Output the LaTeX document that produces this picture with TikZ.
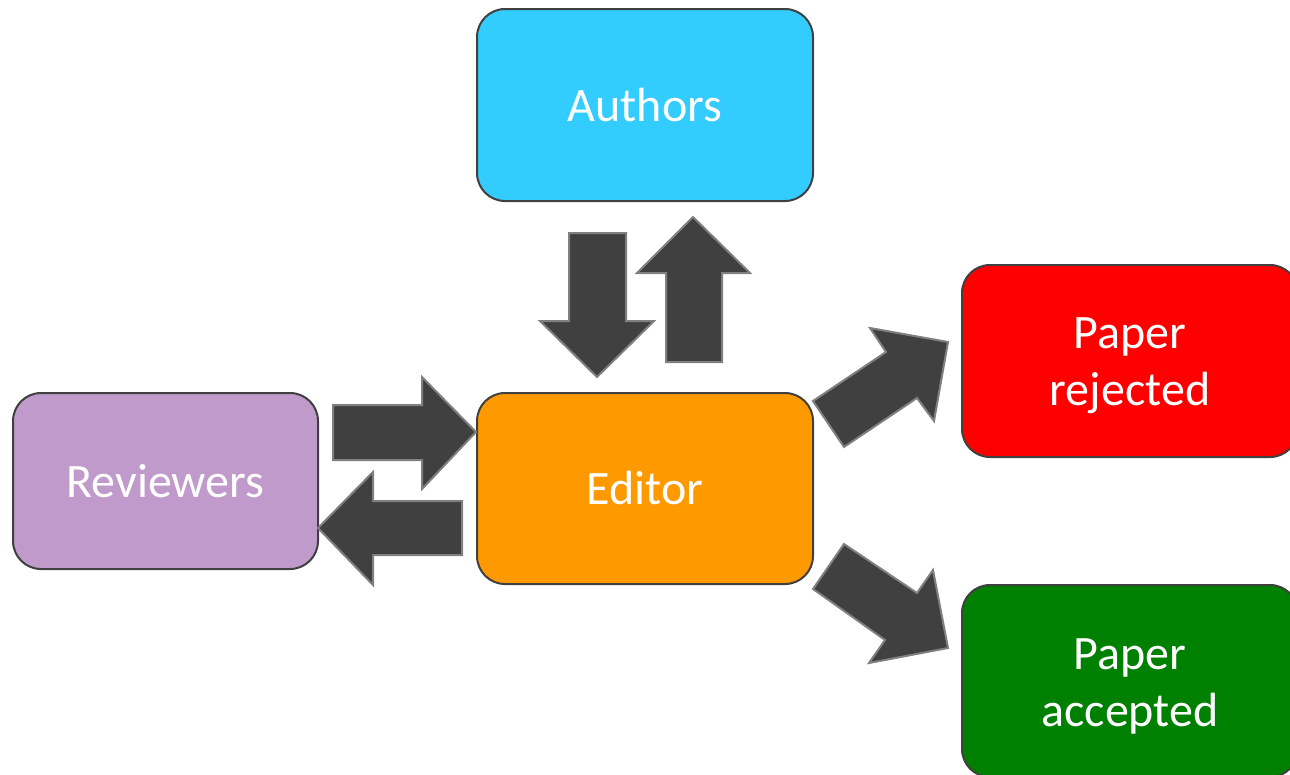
\documentclass[tikz,border=0pt]{standalone}
\usepackage{fontspec}
\setmainfont{Carlito}
\definecolor{boxline}{HTML}{404040}
\definecolor{arrowfill}{HTML}{404040}
\definecolor{arrowline}{HTML}{808080}
\definecolor{authorsc}{HTML}{33CCFF}
\definecolor{reviewersc}{HTML}{C09ACB}
\definecolor{editorc}{HTML}{FF9900}
\definecolor{rejectedc}{HTML}{FF0000}
\definecolor{acceptedc}{HTML}{008000}
\begin{document}
\begin{tikzpicture}[x=1pt,y=-1pt,
  box/.style={draw=boxline, line width=2pt, rounded corners=28pt, text=white,
    font=\fontsize{48}{57}\selectfont, align=center, inner sep=0pt},
  lbl/.style={text=white, font=\fontsize{48}{57}\selectfont, align=center, inner sep=0pt},
  blockarrow/.style={fill=arrowfill, draw=arrowline, line width=2pt, line join=miter}]
\useasboundingbox (0,0) rectangle (1290,774);

% boxes
\node[box, fill=authorsc, minimum width=336pt, minimum height=192pt] (authors) at (645,105) {Authors};
\node[box, fill=editorc, minimum width=336pt, minimum height=191pt] (editor) at (645,488.5) {Editor};
\node[box, fill=reviewersc, minimum width=305pt, minimum height=176pt] (reviewers) at (165.5,481) {Reviewers};
\node[box, fill=rejectedc, minimum width=336pt, minimum height=192pt] (rejected) at (1130,361) {};
\node[lbl] (rejectedtext) at (1130,366) {Paper\\rejected};
\node[box, fill=acceptedc, minimum width=336pt, minimum height=192pt] (accepted) at (1130,681) {};
\node[lbl] (acceptedtext) at (1130,686) {Paper\\accepted};

% block arrows: authors -> editor (down)
\draw[blockarrow] (569,233) -- (626,233) -- (626,321) -- (654,321) -- (597,377)
  -- (540,321) -- (569,321) -- cycle;
% editor -> authors (up)
\draw[blockarrow] (666,362) -- (722,362) -- (722,273) -- (750,273) -- (693,217)
  -- (637,273) -- (666,273) -- cycle;
% reviewers -> editor (right)
\draw[blockarrow] (333,405) -- (422,405) -- (422,377) -- (476,432) -- (422,489)
  -- (422,460) -- (333,460) -- cycle;
% editor -> reviewers (left)
\draw[blockarrow] (462,501) -- (373,501) -- (373,472) -- (318,528) -- (373,585)
  -- (373,555) -- (462,555) -- cycle;
% editor -> rejected
\draw[blockarrow] (813,401) -- (886,352) -- (870,328) -- (948,342) -- (934,421)
  -- (917,398) -- (844,447) -- cycle;
% editor -> accepted
\draw[blockarrow] (844,544) -- (917,593) -- (933,570) -- (948,648) -- (869,663)
  -- (885,640) -- (813,589) -- cycle;
\end{tikzpicture}
\end{document}
